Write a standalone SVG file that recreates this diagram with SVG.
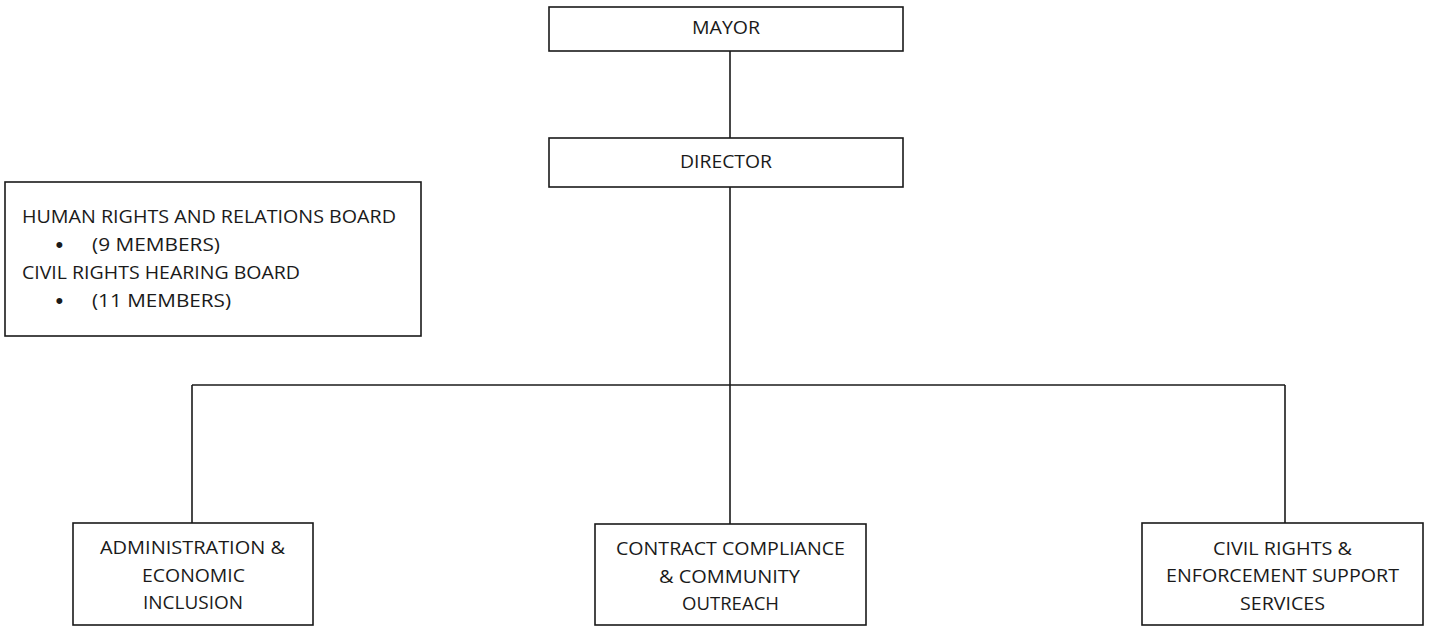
<svg xmlns="http://www.w3.org/2000/svg" width="1430" height="627" viewBox="0 0 1430 627">
<style>
.box{fill:#fff;stroke:#1a1a1a;stroke-width:1.6}
.ln{stroke:#1a1a1a;stroke-width:1.6;fill:none}
text{font-family:"Open Sans","Liberation Sans",sans-serif;font-size:18px;fill:#1a1a1a}
.bul{font-family:"Liberation Sans",sans-serif;font-size:22px}
</style>
<rect width="1430" height="627" fill="#fff"/>
<g id="connectors">
<line class="ln" x1="730" y1="51" x2="730" y2="138"/>
<line class="ln" x1="730" y1="187" x2="730" y2="524"/>
<line class="ln" x1="192" y1="385" x2="1285" y2="385"/>
<line class="ln" x1="192" y1="385" x2="192" y2="523"/>
<line class="ln" x1="1285" y1="385" x2="1285" y2="523"/>
</g>
<g id="mayor">
<rect class="box" x="549" y="7" width="354" height="44"/>
<text x="692" y="34.3" textLength="68" lengthAdjust="spacingAndGlyphs">MAYOR</text>
</g>
<g id="director">
<rect class="box" x="549" y="138" width="354" height="49"/>
<text x="680" y="168" textLength="92" lengthAdjust="spacingAndGlyphs">DIRECTOR</text>
</g>
<g id="boards">
<rect class="box" x="5" y="182" width="416" height="154"/>
<text x="22" y="222.5" textLength="374" lengthAdjust="spacingAndGlyphs">HUMAN RIGHTS AND RELATIONS BOARD</text>
<text class="bul" x="55.5" y="252">•</text>
<text x="92" y="250.5" textLength="128" lengthAdjust="spacingAndGlyphs">(9 MEMBERS)</text>
<text x="22" y="278.5" textLength="278" lengthAdjust="spacingAndGlyphs">CIVIL RIGHTS HEARING BOARD</text>
<text class="bul" x="55.5" y="308">•</text>
<text x="92" y="306.5" textLength="139" lengthAdjust="spacingAndGlyphs">(11 MEMBERS)</text>
</g>
<g id="admin">
<rect class="box" x="73" y="523" width="240" height="102"/>
<text x="100" y="554" textLength="185" lengthAdjust="spacingAndGlyphs">ADMINISTRATION &amp;</text>
<text x="142" y="581.5" textLength="103" lengthAdjust="spacingAndGlyphs">ECONOMIC</text>
<text x="143" y="609" textLength="100" lengthAdjust="spacingAndGlyphs">INCLUSION</text>
</g>
<g id="contract">
<rect class="box" x="595" y="524" width="271" height="101"/>
<text x="616" y="555" textLength="229" lengthAdjust="spacingAndGlyphs">CONTRACT COMPLIANCE</text>
<text x="659" y="582.5" textLength="141" lengthAdjust="spacingAndGlyphs">&amp; COMMUNITY</text>
<text x="682" y="610" textLength="97" lengthAdjust="spacingAndGlyphs">OUTREACH</text>
</g>
<g id="civil">
<rect class="box" x="1142" y="523" width="281" height="102"/>
<text x="1213" y="554.5" textLength="139" lengthAdjust="spacingAndGlyphs">CIVIL RIGHTS &amp;</text>
<text x="1166" y="582" textLength="233" lengthAdjust="spacingAndGlyphs">ENFORCEMENT SUPPORT</text>
<text x="1240" y="609.5" textLength="85" lengthAdjust="spacingAndGlyphs">SERVICES</text>
</g>
</svg>
